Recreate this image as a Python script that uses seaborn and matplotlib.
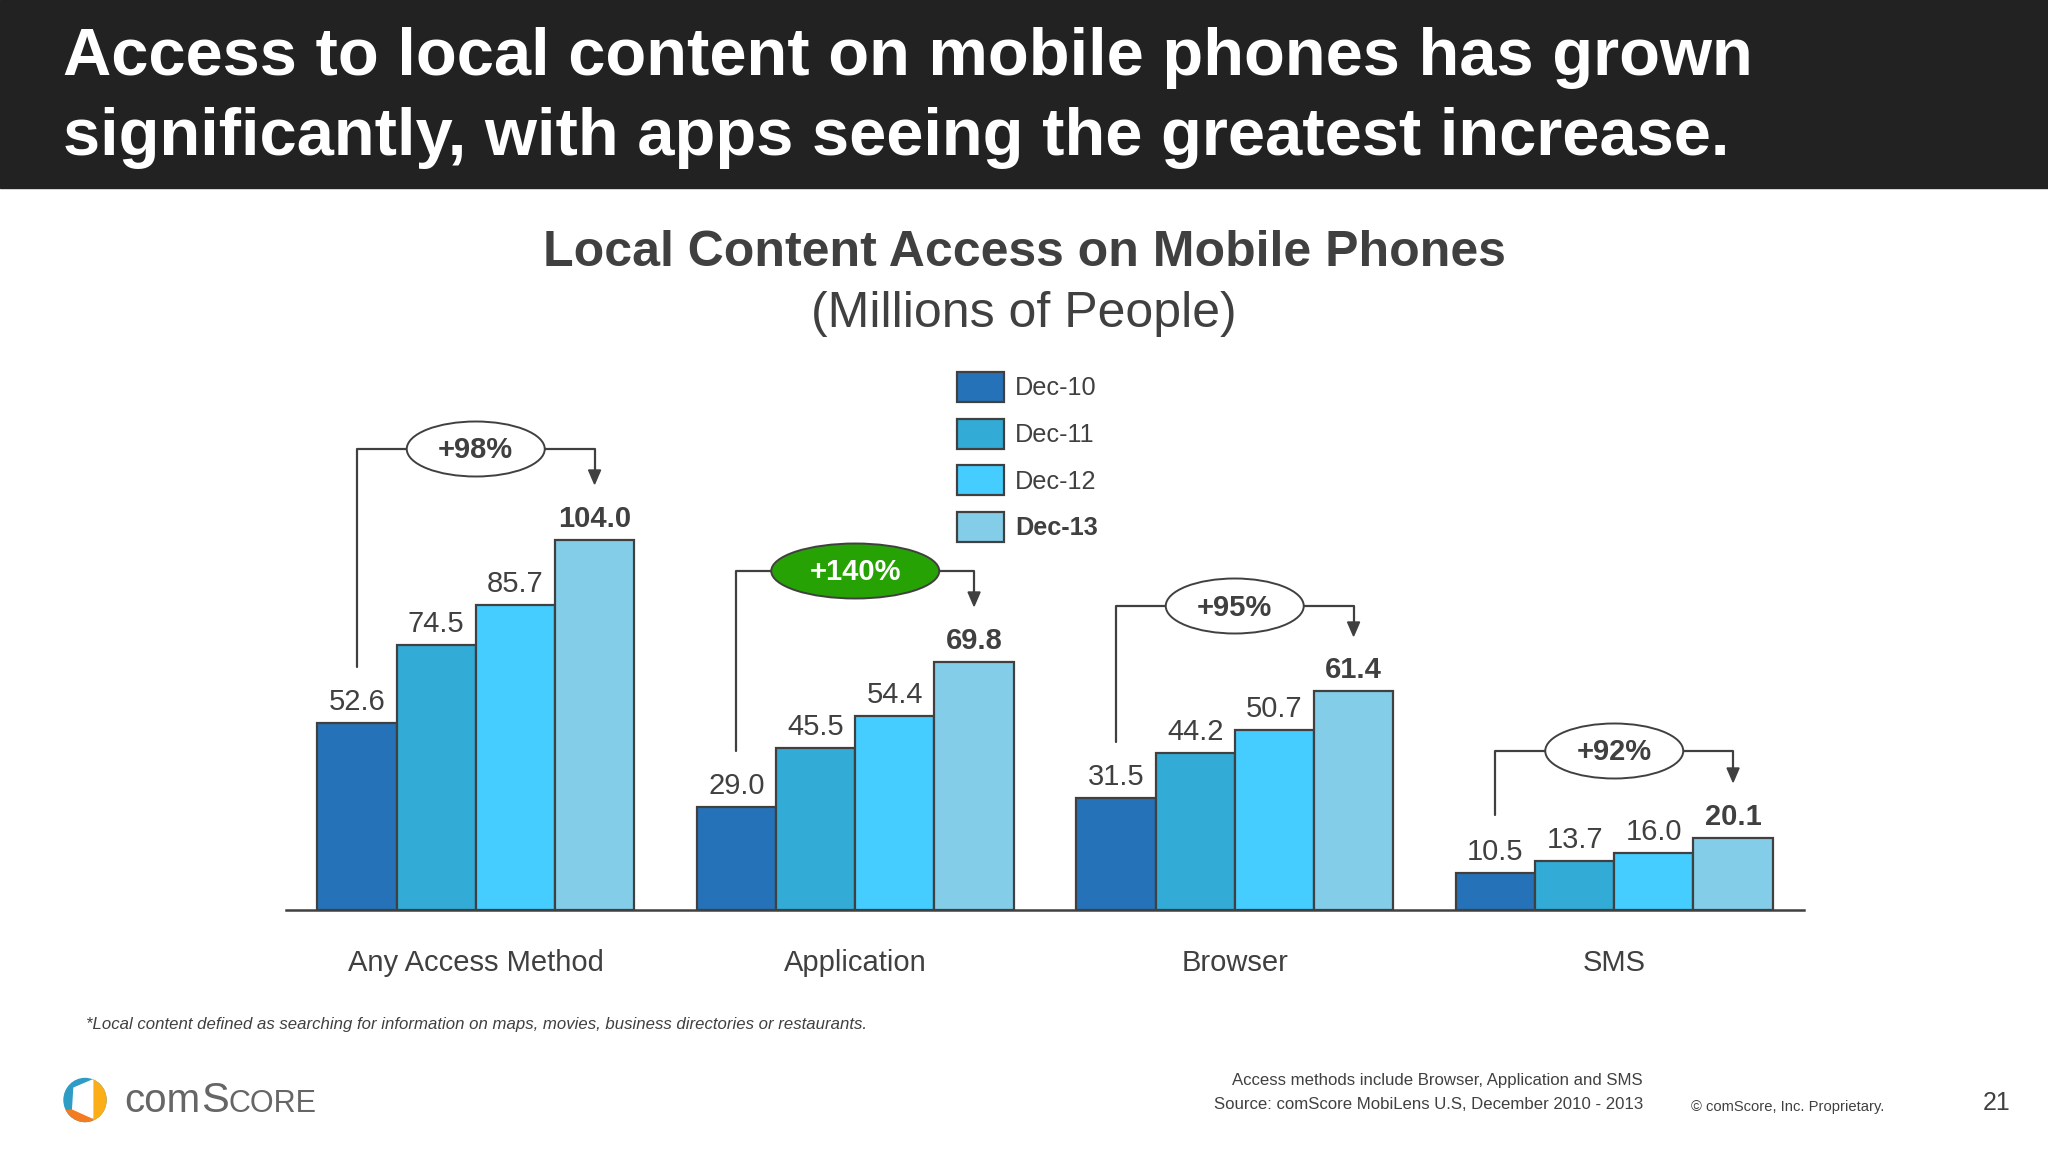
import matplotlib
matplotlib.use('Agg')
import matplotlib.pyplot as plt
import pandas as pd
import seaborn as sns
from matplotlib.patches import Ellipse, Polygon, Rectangle

categories = ['Any Access Method', 'Application', 'Browser', 'SMS']
periods = ['Dec-10', 'Dec-11', 'Dec-12', 'Dec-13']
dec_10 = [52.6, 29.0, 31.5, 10.5]
dec_11 = [74.5, 45.5, 44.2, 13.7]
dec_12 = [85.7, 54.4, 50.7, 16.0]
dec_13 = [104.0, 69.8, 61.4, 20.1]
growth = ['+98%', '+140%', '+95%', '+92%']
colors = ['#2672B8', '#32ABD6', '#45CDFF', '#84CDE9']

W, H = 2048, 1152
INK = '#404040'
BASE_Y = 910
PX_PER_UNIT = 3.56
AX_TOP = 330


def load_frame():
    rows = []
    for period, values in zip(periods, [dec_10, dec_11, dec_12, dec_13]):
        for cat, val in zip(categories, values):
            rows.append({'category': cat, 'period': period, 'value': val})
    return pd.DataFrame(rows)


def draw_bars(fig):
    ax = fig.add_axes([286 / W, 1 - BASE_Y / H, 1518 / W, (BASE_Y - AX_TOP) / H])
    sns.barplot(load_frame(), x='category', y='value', hue='period', hue_order=periods,
                palette=colors, width=0.835, gap=0, saturation=1, edgecolor=INK, linewidth=1.6,
                ax=ax, zorder=3)
    ax.set_xlim(-0.5, 3.5)
    ax.set_ylim(0, (BASE_Y - AX_TOP) / PX_PER_UNIT)
    ax.set_xlabel('')
    ax.set_ylabel('')
    ax.set_yticks([])
    ax.tick_params(axis='x', length=0, pad=28, labelsize=21, labelcolor=INK)
    sns.despine(ax=ax, left=True)
    ax.spines['bottom'].set_color(INK)
    ax.spines['bottom'].set_linewidth(1.8)
    ax.patch.set_alpha(0)
    for n, container in enumerate(ax.containers):
        bold = n == len(ax.containers) - 1
        ax.bar_label(container, fmt='%.1f', padding=5, fontsize=21, color=INK,
                     fontweight='bold' if bold else 'normal', zorder=4)
    handles, labels = ax.get_legend_handles_labels()
    leg = ax.legend(handles, labels, loc='upper left', bbox_to_anchor=(957 / W, 1 - 372 / H),
                    bbox_transform=fig.transFigure, frameon=False, fontsize=18.2, labelcolor=INK,
                    handlelength=1.85, handleheight=1.45, labelspacing=0.66, handletextpad=0.44,
                    borderpad=0, borderaxespad=0)
    leg.get_texts()[-1].set_fontweight('bold')
    return ax


def draw_bracket(over, ax, i, label, bracket_y, start_y, end_y, highlight=False):
    bars_first = ax.containers[0][i]
    bars_last = ax.containers[-1][i]
    x0 = ax.transData.transform((bars_first.get_x() + bars_first.get_width() / 2, 0))[0]
    x1 = ax.transData.transform((bars_last.get_x() + bars_last.get_width() / 2, 0))[0]
    xc = (x0 + x1) / 2
    over.plot([x0, x0, x1, x1], [start_y, bracket_y, bracket_y, end_y - 6], color=INK, lw=1.6, zorder=5)
    over.add_patch(Polygon([(x1 - 6, end_y - 12), (x1 + 6, end_y - 12), (x1, end_y + 2)], color=INK, zorder=5))
    face = '#27A204' if highlight else 'white'
    width = 168 if highlight else 138
    over.add_patch(Ellipse((xc, bracket_y), width, 55, facecolor=face, edgecolor=INK, lw=1.4, zorder=6))
    over.text(xc, bracket_y - 1.5, label, ha='center', va='center_baseline', fontsize=21, fontweight='bold',
              color='white' if highlight else INK, zorder=7)


def draw_logo(over):
    cx, cy = 85, 1100
    over.add_patch(Ellipse((cx, cy), 42, 43, color='#2F9CC6', zorder=3))
    orange = Ellipse((cx, cy), 42, 43, color='#F37B20', zorder=4)
    over.add_patch(orange)
    orange.set_clip_path(Polygon([(60, 1111), (73, 1109), (93, 1118), (93, 1125), (60, 1125)], transform=over.transData))
    yellow = Ellipse((cx, cy), 42, 43, color='#FBAE17', zorder=4)
    over.add_patch(yellow)
    yellow.set_clip_path(Rectangle((92.7, 1070), 20, 60, transform=over.transData))
    over.add_patch(Polygon([(92.7, 1080), (92.7, 1118), (72.7, 1109), (74, 1088)], color='white', zorder=5))
    over.text(124, 1112, 'com', fontsize=29, color='#666666', va='baseline')
    over.text(201, 1112, 'S', fontsize=30, color='#666666', va='baseline')
    over.text(229, 1112, 'CORE', fontsize=22, color='#666666', va='baseline')


def _main():
    sns.set_theme(style='white')
    plt.rcParams['font.family'] = ['Liberation Sans', 'DejaVu Sans']
    fig = plt.figure(figsize=(W / 100, H / 100), dpi=100, facecolor='white')
    over = fig.add_axes([0, 0, 1, 1], zorder=5)
    over.axis('off')
    ax = draw_bars(fig)
    over.set_xlim(0, W)
    over.set_ylim(H, 0)

    over.add_patch(Rectangle((0, 0), W, 188, color='#222222', zorder=1))
    for y, line in [(51, 'Access to local content on mobile phones has grown'),
                    (131, 'significantly, with apps seeing the greatest increase.')]:
        over.text(63, y, line, color='white', fontsize=48.2, fontweight='bold', va='center_baseline')
    over.text(1024, 248, 'Local Content Access on Mobile Phones', color=INK, fontsize=36, fontweight='bold',
              ha='center', va='center_baseline')
    over.text(1024, 309, '(Millions of People)', color=INK, fontsize=36, ha='center', va='center_baseline')

    draw_bracket(over, ax, 0, growth[0], 449, 667, 482)
    draw_bracket(over, ax, 1, growth[1], 571, 751, 604, highlight=True)
    draw_bracket(over, ax, 2, growth[2], 606, 742, 634)
    draw_bracket(over, ax, 3, growth[3], 751, 815, 780)

    over.text(86, 1023, '*Local content defined as searching for information on maps, movies, business directories or restaurants.',
              fontsize=12.1, style='italic', color=INK, va='center_baseline')
    over.text(1643, 1079, 'Access methods include Browser, Application and SMS', fontsize=12.1, color=INK,
              ha='right', va='center_baseline')
    over.text(1643, 1103, 'Source: comScore MobiLens U.S, December 2010 - 2013', fontsize=12.1, color=INK,
              ha='right', va='center_baseline')
    over.text(1691, 1106, '© comScore, Inc. Proprietary.', fontsize=10.65, color=INK, va='center_baseline')
    over.text(1997, 1100, '21', fontsize=18, color=INK, ha='center', va='center_baseline')
    draw_logo(over)

    fig.savefig('out.png', dpi=100, facecolor='white')


if __name__ == '__main__':
    _main()
